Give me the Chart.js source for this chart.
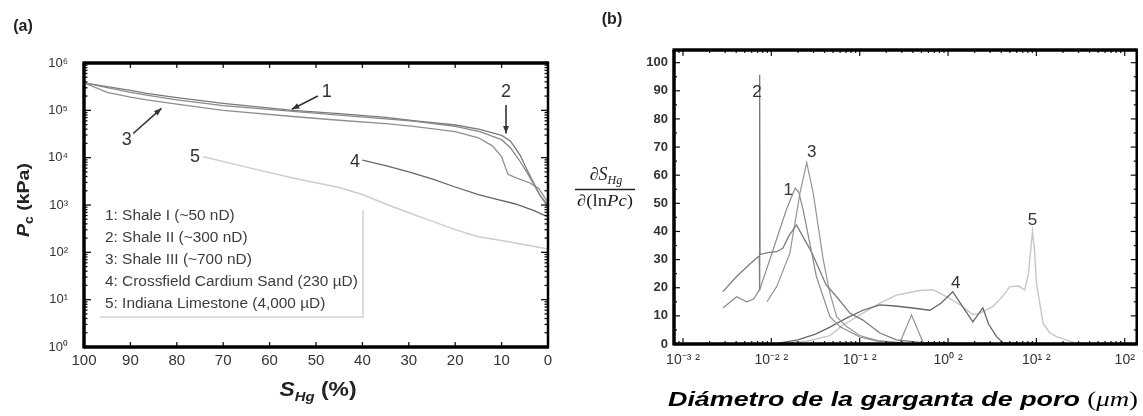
<!DOCTYPE html>
<html><head><meta charset="utf-8">
<script src="https://cdn.jsdelivr.net/npm/chart.js@4.4.1/dist/chart.umd.min.js"></script>
<style>
html,body{margin:0;padding:0;background:#fff;}
body{width:1143px;height:416px;position:relative;overflow:hidden;}
canvas{position:absolute;top:0;}
#ca{left:0;} #cb{left:560px;}
</style></head><body>
<canvas id="ca" width="560" height="416"></canvas>
<canvas id="cb" width="583" height="416"></canvas>
<script>
// ---------------- Panel (a): mercury saturation (%) vs capillary pressure (kPa) ----------------
const seriesNames = ['1: Shale I (~50 nD)', '2: Shale II (~300 nD)', '3: Shale III (~700 nD)',
                     '4: Crossfield Cardium Sand (230 µD)', '5: Indiana Limestone (4,000 µD)'];
const satShale1 = [100, 90, 86.5, 80, 70, 55, 45, 35, 29, 20, 14.7, 10, 8, 6, 4, 2, 0];
const pcShale1  = [380000, 240000, 209000, 166000, 126000, 95500, 79400, 66100, 58900, 45700, 35500, 24000, 15800, 8300, 3980, 1780, 890];
const satShale2 = [100, 90, 86.5, 80, 70, 55, 45, 35, 29, 20, 14.7, 10, 8.2, 7.5, 6, 4.6, 3, 1.7, 0];
const pcShale2  = [380000, 263000, 229000, 186000, 141000, 100000, 85100, 70800, 60300, 49000, 39800, 29500, 22900, 18600, 11200, 5750, 2820, 1580, 1000];
const satShale3 = [100, 95, 90, 86.5, 80, 70, 55, 45, 35, 29, 20, 15, 12, 10, 9.2, 8.6, 7, 4, 2, 0];
const pcShale3  = [380000, 240000, 191000, 166000, 135000, 100000, 74100, 61700, 52500, 45700, 35500, 26300, 17800, 10500, 6310, 4470, 3800, 2950, 2240, 1120];
const satSand4  = [40, 35, 30, 25, 20, 15, 11, 7, 3, 0];
const pcSand4   = [8910, 6760, 5010, 3550, 2400, 1660, 1320, 1050, 759, 562];
const satLime5  = [74.3, 65, 55, 45, 40, 35, 29, 25, 20, 15, 10, 5, 0];
const pcLime5   = [10500, 6310, 3720, 2340, 1660, 1050, 631, 457, 302, 214, 178, 145, 117];
const satTicks  = [100, 90, 80, 70, 60, 50, 40, 30, 20, 10, 0];
const pcTickValues = [1, 10, 100, 1000, 10000, 100000, 1000000];
const pcTickLabels = ['10⁰', '10¹', '10²', '10³', '10⁴', '10⁵', '10⁶'];

// ---------------- Panel (b): pore-throat diameter (µm) vs dS/d(lnPc) ----------------
const diam1 = [0.002831, 0.004046, 0.00526, 0.00631, 0.007413, 0.00871, 0.01047, 0.01479, 0.01862, 0.02042, 0.02291, 0.03236, 0.04603, 0.0597, 0.1, 0.1585, 0.3162];
const dist1 = [12.8, 16.8, 15, 16, 19.5, 26, 33.5, 47.7, 55.4, 54, 47.7, 24, 9.7, 6.2, 2.5, 1, 0.3];
const diam2 = [0.002831, 0.004046, 0.005754, 0.007079, 0.007311, 0.007362, 0.007396, 0.007447, 0.00912, 0.01148, 0.01349, 0.01585, 0.01932, 0.02291, 0.02818, 0.03236, 0.04169, 0.05483, 0.07745, 0.1086, 0.1694, 0.2612, 0.5012, 1];
const dist2 = [18.6, 24, 28.5, 31, 31.3, 19, 95.7, 31.8, 32.5, 32.8, 34, 38.5, 42.3, 38, 33, 28.8, 21, 16.8, 11, 8.5, 3.9, 1.5, 0.5, 0.2];
const diam3 = [0.008913, 0.01148, 0.01622, 0.02109, 0.02512, 0.02979, 0.03864, 0.04603, 0.05483, 0.07112, 0.1, 0.1585, 0.2851, 0.3864, 0.5224, 1, 3.162];
const dist3 = [15, 20.4, 32.3, 53.6, 64.5, 53.6, 30, 18.1, 9.7, 6.2, 3, 1.2, 0.5, 10.3, 0.5, 0.3, 0.2];
const diam4 = [0.01202, 0.01995, 0.03162, 0.04603, 0.07079, 0.1086, 0.1694, 0.2512, 0.3981, 0.6223, 0.8318, 1.132, 1.413, 1.91, 2.477, 2.884, 3.54, 4.169, 6.31];
const dist4 = [0.3, 1.5, 3.5, 6, 9.2, 12, 13.9, 13.5, 12.8, 12, 14.5, 18.6, 14, 7.9, 12.8, 7, 2.6, 0.5, 0.2];
const diam5 = [0.01202, 0.02512, 0.04603, 0.0631, 0.1086, 0.1694, 0.2612, 0.4786, 0.6761, 0.9616, 1.358, 1.91, 2.239, 3.214, 4.169, 5.0, 6.31, 7.396, 8.128, 9.036, 9.55, 10.02, 11.91, 14.13, 16.87, 27.16, 63.1, 125.9];
const dist5 = [0.3, 1, 3, 6.5, 11, 14.5, 17.4, 19, 19.3, 16.8, 14, 10.5, 10.8, 13.3, 17, 20.4, 20.6, 19.2, 25, 40, 33, 21.6, 7.4, 4, 2.6, 0.5, 0.3, 0.2];
const diamTickValues = [0.001, 0.01, 0.1, 1, 10, 100];
const diamTickLabels = ['10⁻³ ²', '10⁻² ²', '10⁻¹ ²', '10⁰ ²', '10¹ ²', '10²'];
const distTickValues = [0, 10, 20, 30, 40, 50, 60, 70, 80, 90, 100];

// ---------------- helpers ----------------
const SANS = 'Arial, "Liberation Sans", Helvetica, sans-serif';
const SERIF = '"Liberation Serif", "Times New Roman", serif';
function pts(xs, ys) { return xs.map((x, i) => ({ x: x, y: ys[i] })); }
function seg(ctx, x1, y1, x2, y2) { ctx.beginPath(); ctx.moveTo(x1, y1); ctx.lineTo(x2, y2); ctx.stroke(); }
// draw text runs; align 'left' or centered; optional target width => horizontal stretch
function runs(ctx, parts, x, y, align, targetW, sxFixed) {
  let w = 0;
  parts.forEach(p => { ctx.font = p[1]; w += ctx.measureText(p[0]).width; });
  const sx = targetW ? targetW / w : (sxFixed || 1);
  ctx.save();
  ctx.textAlign = 'left';
  const x0 = align === 'left' ? x : x - w * sx / 2;
  ctx.translate(x0, y); ctx.scale(sx, 1);
  let cx = 0;
  parts.forEach(p => { ctx.font = p[1]; ctx.fillText(p[0], cx, (p[2] || 0)); cx += ctx.measureText(p[0]).width; });
  ctx.restore();
  return w * sx;
}
function arrow(ctx, x1, y1, x2, y2) {
  seg(ctx, x1, y1, x2, y2);
  const a = Math.atan2(y2 - y1, x2 - x1), h = 8;
  ctx.beginPath(); ctx.moveTo(x2, y2);
  ctx.lineTo(x2 - h * Math.cos(a - 0.38), y2 - h * Math.sin(a - 0.38));
  ctx.lineTo(x2 - h * Math.cos(a + 0.38), y2 - h * Math.sin(a + 0.38));
  ctx.closePath(); ctx.fill();
}

// ---------------- Chart (a) ----------------
const decoA = {
  id: 'decoA',
  afterDraw(chart) {
    const { ctx, chartArea: a, scales: { x, y } } = chart;
    ctx.save();
    ctx.strokeStyle = '#111'; ctx.lineWidth = 1.3;
    satTicks.forEach(s => { const px = x.getPixelForValue(s); seg(ctx, px, a.bottom, px, a.bottom - 5); seg(ctx, px, a.top, px, a.top + 5); });
    for (let d = 0; d < 6; d++) for (let m = 1; m < 10; m++) {
      const py = y.getPixelForValue(m * Math.pow(10, d)); const L = m === 1 ? 7 : 3.5;
      seg(ctx, a.left, py, a.left + L, py); seg(ctx, a.right, py, a.right - L, py);
    }
    ctx.strokeStyle = '#000';
    ctx.lineWidth = 3.5; seg(ctx, a.left - 1.5, a.top, a.right, a.top); seg(ctx, a.left, a.top, a.left, a.bottom + 1.5); seg(ctx, a.left, a.bottom, a.right, a.bottom);
    ctx.lineWidth = 2.5; seg(ctx, a.right, a.top - 1.5, a.right, a.bottom + 1.5);

    // curve annotations
    const P = (s, p) => [x.getPixelForValue(s), y.getPixelForValue(p)];
    ctx.fillStyle = '#333'; ctx.strokeStyle = '#333'; ctx.lineWidth = 1.6;
    ctx.textAlign = 'center'; ctx.textBaseline = 'middle'; ctx.font = '18px ' + SANS;
    const labs = [['1', 47.7, 245000], ['2', 9.05, 245000], ['3', 90.8, 23400], ['4', 41.6, 8130], ['5', 76.1, 10500]];
    labs.forEach(l => { const q = P(l[1], l[2]); ctx.fillText(l[0], q[0], q[1]); });
    const arrs = [[49.6, 200000, 55.2, 105000], [9.05, 129000, 9.05, 32400], [89.4, 32400, 83.3, 110000]];
    arrs.forEach(r => { const p1 = P(r[0], r[1]), p2 = P(r[2], r[3]); arrow(ctx, p1[0], p1[1], p2[0], p2[1]); });

    // legend box
    ctx.strokeStyle = '#dcdcdc'; ctx.lineWidth = 2;
    seg(ctx, 363, 210, 363, 318); seg(ctx, 100, 317, 363, 317);
    ctx.fillStyle = '#3c3c3c'; ctx.textBaseline = 'alphabetic';
    chart.data.datasets.forEach((ds, i) => runs(ctx, [[ds.label, '14px ' + SANS]], 105, 220 + i * 22, 'left', null, 1.1));

    // axis titles
    ctx.fillStyle = '#222';
    runs(ctx, [['S', 'bold italic 20px ' + SANS], ['Hg', 'bold italic 13px ' + SANS, 5], [' (%)', 'bold 20px ' + SANS]], 318, 396, 'center', 77);
    ctx.save(); ctx.translate(29, 200); ctx.rotate(-Math.PI / 2);
    runs(ctx, [['P', 'bold italic 17px ' + SANS], ['c', 'bold 12px ' + SANS, 4], [' (kPa)', 'bold 17px ' + SANS]], 0, 0, 'center', 74);
    ctx.restore();
    runs(ctx, [['(a)', 'bold 16px ' + SANS]], 23, 31, 'center');
    ctx.restore();
  }
};

new Chart(document.getElementById('ca'), {
  type: 'line',
  data: { datasets: [
    { label: seriesNames[0], data: pts(satShale1, pcShale1), borderColor: '#8a8a8a', borderWidth: 1.3 },
    { label: seriesNames[1], data: pts(satShale2, pcShale2), borderColor: '#7a7a7a', borderWidth: 1.3 },
    { label: seriesNames[2], data: pts(satShale3, pcShale3), borderColor: '#8f8f8f', borderWidth: 1.3 },
    { label: seriesNames[3], data: pts(satSand4, pcSand4), borderColor: '#666666', borderWidth: 1.3 },
    { label: seriesNames[4], data: pts(satLime5, pcLime5), borderColor: '#cdcdcd', borderWidth: 1.5 }
  ] },
  options: {
    responsive: false, animation: false, devicePixelRatio: 1,
    elements: { point: { radius: 0 }, line: { tension: 0 } },
    layout: { padding: { top: 63, right: 12, left: 0, bottom: 0 } },
    plugins: { legend: { display: false }, tooltip: { enabled: false } },
    scales: {
      x: { type: 'linear', reverse: true, min: 0, max: 100,
           grid: { display: false, drawTicks: false }, border: { display: false },
           afterBuildTicks(s) { s.ticks = satTicks.map(v => ({ value: v })); },
           ticks: { autoSkip: false, maxRotation: 0, padding: 5, color: '#333', font: { family: SANS, size: 15 } },
           afterFit(s) { s.height = 69; } },
      y: { type: 'logarithmic', min: 1, max: 1000000,
           grid: { display: false, drawTicks: false }, border: { display: false },
           afterBuildTicks(s) { s.ticks = pcTickValues.map(v => ({ value: v })); },
           ticks: { autoSkip: false, padding: 16, color: '#333', font: { family: SANS, size: 13 },
                    callback: (v, i) => pcTickLabels[i] },
           afterFit(s) { s.width = 84; } }
    }
  },
  plugins: [decoA]
});

// ---------------- Chart (b) ----------------
const decoB = {
  id: 'decoB',
  afterDraw(chart) {
    const { ctx, chartArea: a, scales: { x, y } } = chart;
    ctx.save();
    ctx.strokeStyle = '#111'; ctx.lineWidth = 1.2;
    for (let v = 0; v <= 100; v += 5) {
      const py = y.getPixelForValue(v); const L = v % 10 === 0 ? 6 : 3;
      seg(ctx, a.left, py, a.left + L, py); seg(ctx, a.right, py, a.right - L, py);
    }
    for (let d = -4; d <= 2; d++) for (let m = 1; m < 10; m++) {
      const v = m * Math.pow(10, d); if (v < x.min || v > x.max) continue;
      const px = x.getPixelForValue(v); const L = m === 1 ? 6 : 3;
      seg(ctx, px, a.bottom, px, a.bottom - L); seg(ctx, px, a.top, px, a.top + L);
    }
    ctx.strokeStyle = '#000';
    ctx.lineWidth = 3.5; seg(ctx, a.left - 1.5, a.top, a.right, a.top); seg(ctx, a.left, a.top, a.left, a.bottom + 1.5); seg(ctx, a.left, a.bottom, a.right, a.bottom);
    ctx.lineWidth = 2.5; seg(ctx, a.right, a.top - 1.5, a.right, a.bottom + 1.5);

    const P = (d, v) => [x.getPixelForValue(d), y.getPixelForValue(v)];
    ctx.fillStyle = '#333'; ctx.textAlign = 'center'; ctx.textBaseline = 'middle'; ctx.font = '17px ' + SANS;
    const labs = [['2', 0.00687, 89.3], ['1', 0.01552, 54.8], ['3', 0.02858, 68], ['4', 1.225, 21.6], ['5', 9.04, 44]];
    labs.forEach(l => { const q = P(l[1], l[2]); ctx.fillText(l[0], q[0], q[1]); });

    // y title: fraction
    ctx.fillStyle = '#222'; ctx.textBaseline = 'alphabetic';
    runs(ctx, [['∂', '18px ' + SERIF], ['S', 'italic 18px ' + SERIF], ['Hg', 'italic 12px ' + SERIF, 4]], 46, 180, 'center');
    ctx.strokeStyle = '#222'; ctx.lineWidth = 1.3; seg(ctx, 15, 189.5, 75, 189.5);
    runs(ctx, [['∂(ln', '16px ' + SERIF], ['Pc', 'italic 16px ' + SERIF], [')', '16px ' + SERIF]], 45, 206, 'center', 56);

    // x title
    ctx.fillStyle = '#000';
    runs(ctx, [['Diámetro de la garganta de poro ', 'bold italic 21px ' + SANS], ['(', '21px ' + SERIF], ['μm', 'italic 21px ' + SERIF], [')', '21px ' + SERIF]], 343, 406, 'center', 470);
    ctx.fillStyle = '#222';
    runs(ctx, [['(b)', 'bold 16px ' + SANS]], 52, 24, 'center');
    ctx.restore();
  }
};

new Chart(document.getElementById('cb'), {
  type: 'line',
  data: { datasets: [
    { label: seriesNames[0], data: pts(diam1, dist1), borderColor: '#8c8c8c', borderWidth: 1.2 },
    { label: seriesNames[1], data: pts(diam2, dist2), borderColor: '#7c7c7c', borderWidth: 1.3 },
    { label: seriesNames[2], data: pts(diam3, dist3), borderColor: '#959595', borderWidth: 1.2 },
    { label: seriesNames[3], data: pts(diam4, dist4), borderColor: '#676767', borderWidth: 1.3 },
    { label: seriesNames[4], data: pts(diam5, dist5), borderColor: '#c6c6c6', borderWidth: 1.4 }
  ] },
  options: {
    responsive: false, animation: false, devicePixelRatio: 1,
    elements: { point: { radius: 0 }, line: { tension: 0 } },
    layout: { padding: { top: 50, right: 6, left: 0, bottom: 0 } },
    plugins: { legend: { display: false }, tooltip: { enabled: false } },
    scales: {
      x: { type: 'logarithmic', min: 0.000791, max: 136.7,
           grid: { display: false, drawTicks: false }, border: { display: false },
           afterBuildTicks(s) { s.ticks = diamTickValues.map(v => ({ value: v })); },
           ticks: { autoSkip: false, maxRotation: 0, padding: 8, color: '#333', font: { family: SANS, size: 14 },
                    callback: (v, i) => diamTickLabels[i] },
           afterFit(s) { s.height = 72; } },
      y: { type: 'linear', min: 0, max: 104.5,
           grid: { display: false, drawTicks: false }, border: { display: false },
           afterBuildTicks(s) { s.ticks = distTickValues.map(v => ({ value: v })); },
           ticks: { autoSkip: false, padding: 6, color: '#333', font: { family: SANS, size: 13, weight: 'bold' } },
           afterFit(s) { s.width = 114; } }
    }
  },
  plugins: [decoB]
});
</script>
</body></html>
